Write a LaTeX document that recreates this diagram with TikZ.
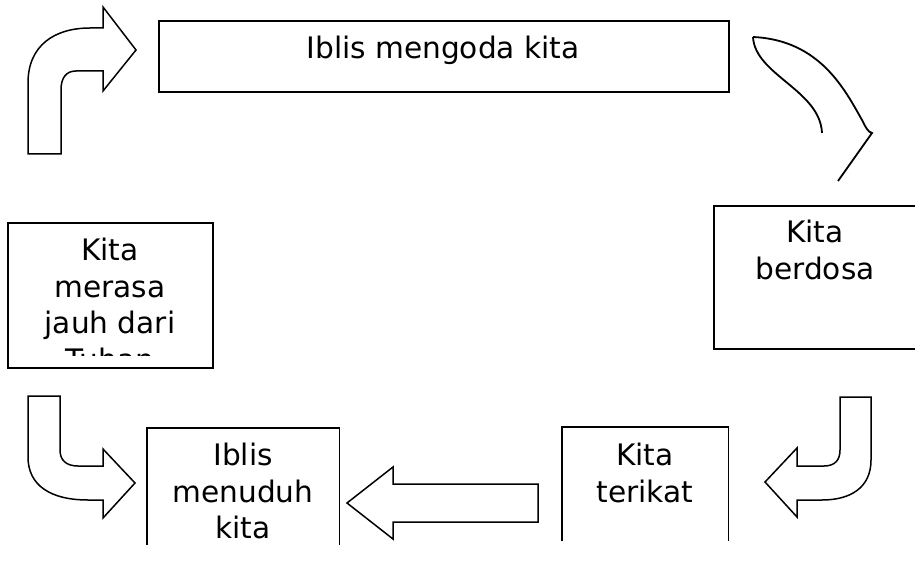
\documentclass[tikz,border=0pt]{standalone}
\usepackage{fontspec}
\setmainfont{DejaVu Sans}
\begin{document}
\begin{tikzpicture}[x=1pt,y=-1pt]
\tikzset{
  boxnode/.style={draw=black, line width=1.8pt, inner sep=0pt, anchor=north west},
  openbox/.style={inner sep=0pt, anchor=north west},
  boxline/.style={draw=black, line width=1.8pt, line join=miter},
  txt/.style={anchor=north, align=center, inner sep=0pt, font=\fontsize{29.6}{36.5}\selectfont},
  bent/.style={draw=black, line width=1.5pt, fill=white, line join=miter},
  curvy/.style={draw=black, line width=1.8pt},
}
\clip (0,0) rectangle (915,572);
\fill[white] (0,0) rectangle (915,572);

% boxes
\node[boxnode, minimum width=570pt, minimum height=71pt] (b1) at (158,20) {};
\node[boxnode, minimum width=205pt, minimum height=143pt] (b2) at (713,205) {};
\node[openbox, minimum width=166pt, minimum height=114pt] (b3) at (562,427) {};
\node[openbox, minimum width=192pt, minimum height=117pt] (b4) at (147,428) {};
\node[boxnode, minimum width=205pt, minimum height=145pt] (b5) at (7,222) {};
\draw[boxline] (b3.south west) -- (b3.north west) -- (b3.north east) -- (b3.south east);
\draw[boxline] (b4.south west) -- (b4.north west) -- (b4.north east) -- (b4.south east);

% texts
\node[txt] (t1) at (443,36) {Iblis mengoda kita};
\node[txt] (t2) at (815,220) {Kita\\berdosa};
\node[txt] (t3) at (645,443) {Kita\\terikat};
\node[txt] (t4) at (243,443) {Iblis\\menuduh\\kita};
\begin{scope}
  \clip (7,222) rectangle (212,355);
  \node[txt] (t5) at (110,238) {Kita\\merasa\\jauh dari\\Tuhan};
\end{scope}

% up-right bent arrow (top left)
\draw[bent] (28,154) -- (28,83) .. controls (28,45) and (55,28) .. (90,28)
  -- (103,28) -- (103,7) -- (136,50) -- (103,91) -- (103,71) -- (76,71)
  .. controls (66,71) and (61,78) .. (61,90) -- (61,154) -- cycle;

% curved broken shape (top right)
\draw[curvy] (753,37) .. controls (820,40) and (845,90) .. (862,120)
  .. controls (866,128) and (868,132) .. (872,133) -- (838,181);
\draw[curvy] (753,37) .. controls (755,75) and (820,90) .. (822,133);

% down-left bent arrow (right)
\draw[bent] (840,397) -- (871,397) -- (871,460)
  .. controls (871,488) and (850,500) .. (822,500) -- (797,500) -- (797,517)
  -- (765,482) -- (797,448) -- (797,466) -- (824,466)
  .. controls (835,466) and (840,460) .. (840,450) -- cycle;

% left arrow (bottom middle)
\draw[bent] (538,484) -- (393,484) -- (393,467) -- (347,503) -- (393,539)
  -- (393,522) -- (538,522) -- cycle;

% down-right bent arrow (bottom left)
\draw[bent] (28,396) -- (60,396) -- (60,450)
  .. controls (60,460) and (66,466) .. (78,466) -- (103,466) -- (103,449)
  -- (135,483) -- (103,518) -- (103,500) -- (88,500)
  .. controls (50,500) and (28,485) .. (28,457) -- cycle;
\end{tikzpicture}
\end{document}
